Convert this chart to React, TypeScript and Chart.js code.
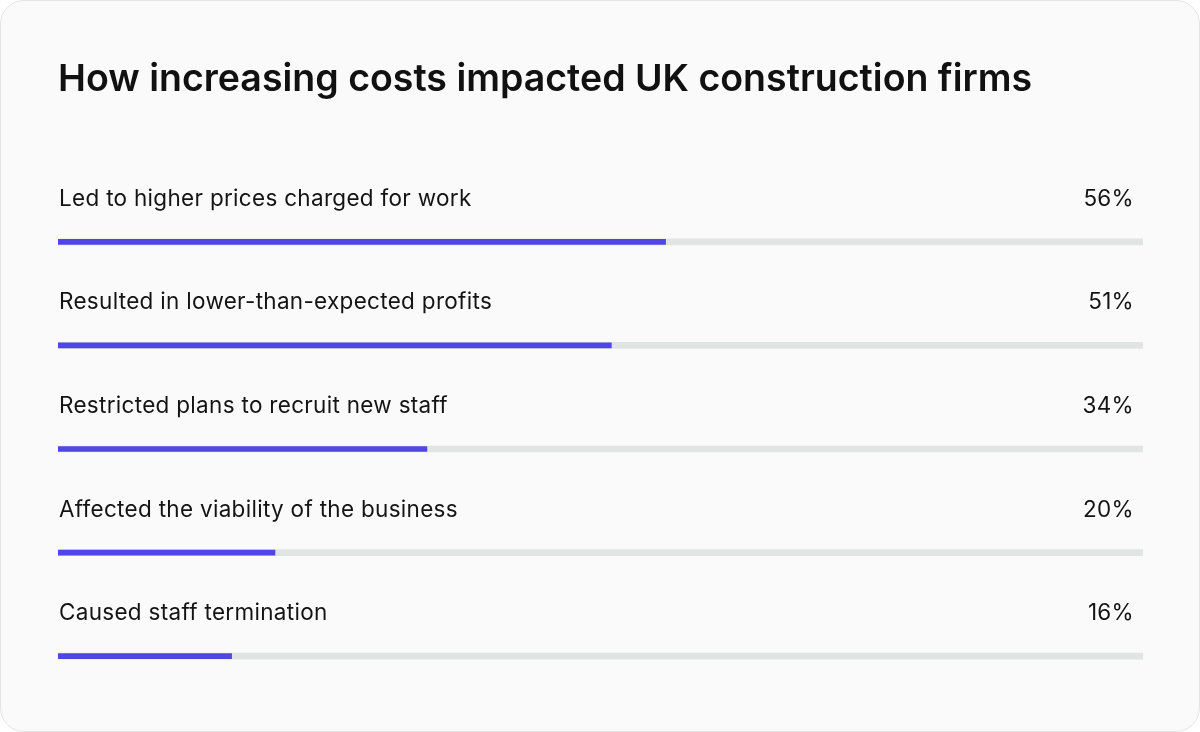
import React, { useEffect, useRef } from 'react';
import Chart from 'chart.js/auto';
import { ChartConfiguration, Plugin } from 'chart.js';

const title = 'How increasing costs impacted UK construction firms';
const categories = [
  'Led to higher prices charged for work',
  'Resulted in lower-than-expected profits',
  'Restricted plans to recruit new staff',
  'Affected the viability of the business',
  'Caused staff termination',
];
const shares = [56, 51, 34, 20, 16];
const trackValues = [100, 100, 100, 100, 100];

const FONT = 'Inter, "Noto Sans", sans-serif';

// draws category name and percentage above each bar
const rowLabels: Plugin<'bar'> = {
  id: 'rowLabels',
  afterDatasetsDraw(chart) {
    const { ctx, chartArea, scales } = chart;
    const yScale = scales.y;
    ctx.save();
    ctx.fillStyle = '#141414';
    ctx.font = `400 22.5px ${FONT}`;
    (ctx as any).letterSpacing = '0.3px';
    ctx.textBaseline = 'alphabetic';
    categories.forEach((cat, i) => {
      const y = yScale.getPixelForValue(i) - 36;
      ctx.textAlign = 'left';
      ctx.fillText(cat, chartArea.left + 1, y);
      ctx.textAlign = 'right';
      ctx.fillText(`${shares[i]}%`, chartArea.right - 9, y);
    });
    ctx.restore();
  },
};

const CostImpactChart: React.FC = () => {
  const chartRef = useRef<HTMLCanvasElement>(null);
  const chartInstance = useRef<Chart | null>(null);

  useEffect(() => {
    if (!chartRef.current) return;
    const ctx = chartRef.current.getContext('2d');
    if (!ctx) return;

    const config: ChartConfiguration<'bar'> = {
      type: 'bar',
      data: {
        labels: categories,
        datasets: [
          {
            data: shares,
            backgroundColor: '#4F46E5',
            barThickness: 5,
            grouped: false,
            order: 0,
            borderWidth: 0,
          },
          {
            data: trackValues,
            backgroundColor: '#E2E3E3',
            barThickness: 6,
            grouped: false,
            order: 1,
            borderWidth: 0,
          },
        ],
      },
      options: {
        indexAxis: 'y',
        responsive: true,
        maintainAspectRatio: false,
        animation: false,
        layout: {
          padding: { left: 57, right: 56, top: 0, bottom: 23 },
        },
        scales: {
          x: { display: false, min: 0, max: 100 },
          y: { display: false, offset: true },
        },
        plugins: {
          legend: { display: false },
          tooltip: { enabled: false },
          title: {
            display: true,
            text: title,
            align: 'start',
            color: '#111111',
            font: { family: FONT, size: 37.5, weight: 600, lineHeight: 1.2 },
            padding: { top: 56, bottom: 88 },
          },
        },
      },
      plugins: [rowLabels],
    };

    chartInstance.current = new Chart(ctx, config);

    return () => {
      if (chartInstance.current) {
        chartInstance.current.destroy();
        chartInstance.current = null;
      }
    };
  }, []);

  return (
    <div style={{ width: '100%', height: '100%', position: 'relative' }}>
      <canvas ref={chartRef}></canvas>
    </div>
  );
};

export default function App() {
  return (
    <div
      style={{
        position: 'fixed',
        left: 0,
        top: 0,
        width: 1200,
        height: 732,
        boxSizing: 'border-box',
        background: '#FAFAFA',
        border: '1px solid #E4E4E4',
        borderRadius: 24,
      }}
    >
      <CostImpactChart />
    </div>
  );
}
